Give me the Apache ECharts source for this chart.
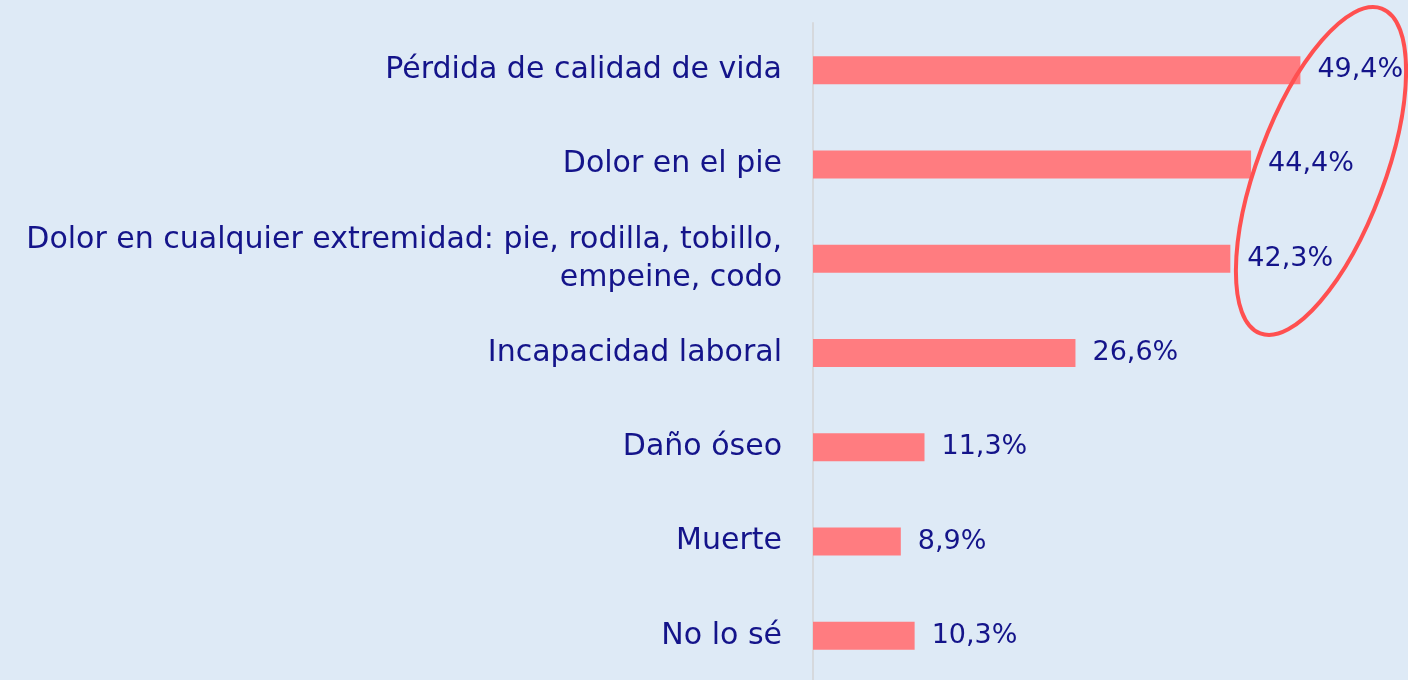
<!DOCTYPE html>
<html><head><meta charset="utf-8">
<style>html,body{margin:0;padding:0;background:#deeaf6;}#c{width:1408px;height:680px;}</style>
<script src="https://cdn.jsdelivr.net/npm/echarts@6/dist/echarts.min.js"></script>
</head><body><div id="c"></div>
<script>
const categories = ["Pérdida de calidad de vida","Dolor en el pie","Dolor en cualquier extremidad: pie, rodilla, tobillo,\nempeine, codo","Incapacidad laboral","Daño óseo","Muerte","No lo sé"];
const values = [49.4,44.4,42.3,26.6,11.3,8.9,10.3];
const FONT = "'DejaVu Sans', sans-serif";
const TXT = "#14148a";
const chart = echarts.init(document.getElementById('c'), null, {renderer:'canvas'});
chart.setOption({
  backgroundColor:'#deeaf6',
  animation:false,
  grid:{left:813, top:23, width:592, height:660, containLabel:false, outerBoundsMode:'none'},
  xAxis:{type:'value', min:0, max:60, show:false},
  yAxis:{type:'category', data:categories, inverse:true,
    axisLine:{show:true, lineStyle:{color:'#d6d9dd', width:2}},
    axisTick:{show:false},
    axisLabel:{margin:31, color:TXT, fontFamily:FONT, fontSize:30, lineHeight:38, align:'right'}},
  series:[{type:'bar', data:values, barWidth:28, itemStyle:{color:'#ff7c80'},
    label:{show:true, position:'right', distance:17, color:TXT, fontFamily:FONT, fontSize:27,
      formatter:p=>p.value.toFixed(1).replace('.',',')+'%'}}],
  graphic:[{type:'ellipse', shape:{cx:0, cy:0, rx:63.6, ry:173.4}, x:1321, y:171, rotation:-0.358,
    style:{fill:'none', stroke:'#ff5050', lineWidth:4}, z:10}]
});
</script></body></html>
